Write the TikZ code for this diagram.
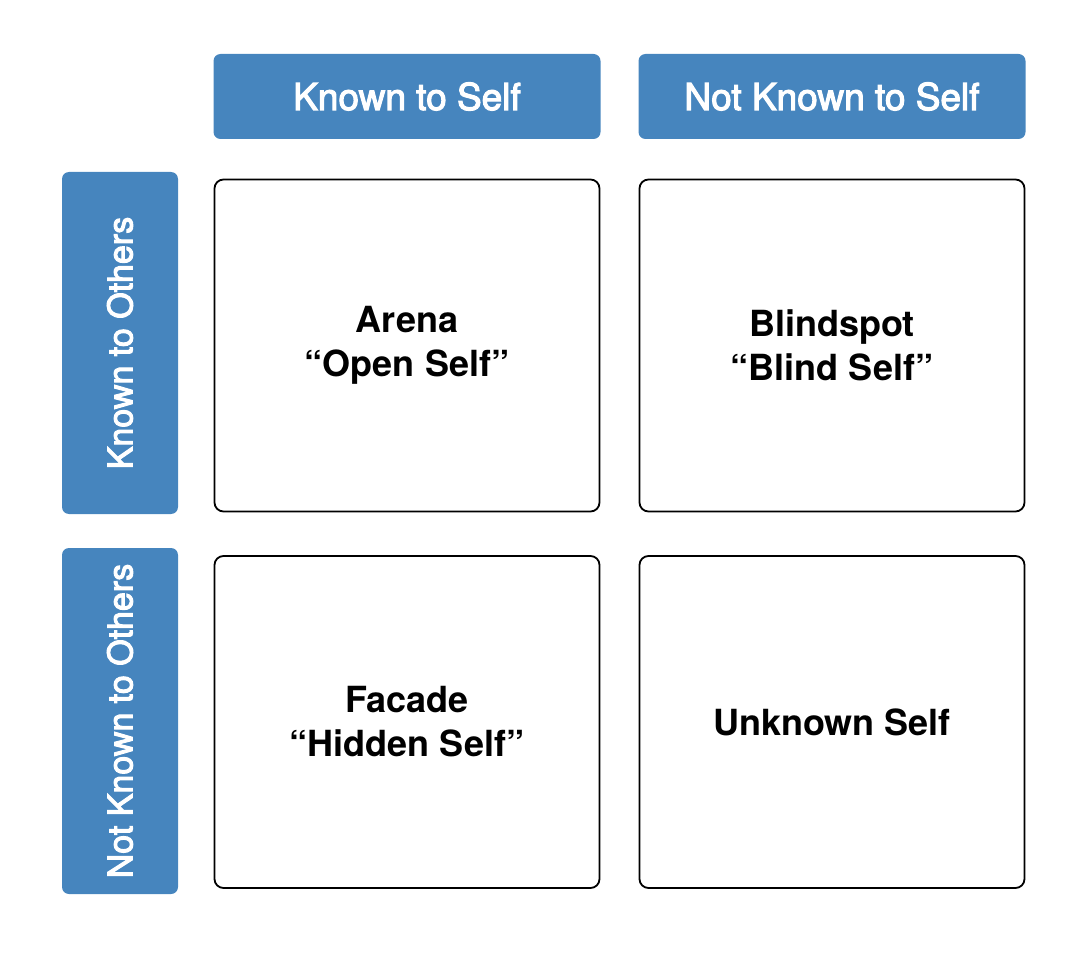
\documentclass[tikz,border=0pt]{standalone}
\usepackage{fontspec}
\setmainfont{TeX Gyre Heros}
\newfontfamily\hdrfont{TeX Gyre Heros}[FakeBold=3]
\definecolor{hdrblue}{RGB}{70,133,190}

\begin{document}
\begin{tikzpicture}[x=1pt,y=-1pt,
  hdr/.style={fill=hdrblue,rounded corners=7pt,text=white,inner sep=0pt},
  tophdr/.style={hdr,minimum width=387pt,minimum height=85pt,font=\hdrfont\fontsize{37}{44}\selectfont},
  sidehdr/.style={hdr,rotate=90,minimum height=116pt,font=\hdrfont\fontsize{34}{40}\selectfont},
  quad/.style={draw=black,line width=1.8pt,rounded corners=9pt,minimum width=385pt,minimum height=332pt,
    inner sep=0pt,align=center,font=\fontsize{36}{44}\selectfont\bfseries}]
\useasboundingbox (0,0) rectangle (1088,960);

\pgfmathsetmacro{\colA}{407};
\pgfmathsetmacro{\colB}{832};
\pgfmathsetmacro{\rowA}{345.5};
\pgfmathsetmacro{\rowB}{722};

\node[tophdr] (kself) at (\colA,96.5) {Known to Self};
\node[tophdr] (nkself) at (\colB,96.5) {Not Known to Self};

\node[sidehdr,minimum width=342pt] (kothers) at (120,343) {Known to Others};
\node[sidehdr,minimum width=346pt] (nkothers) at (120,721) {Not Known to Others};

\node[quad] (arena) at (\colA,\rowA) {Arena\\``Open Self''};
\node[quad] (blind) at (\colB,\rowA) {Blindspot\\``Blind Self''};
\node[quad] (facade) at (\colA,\rowB) {Facade\\``Hidden Self''};
\node[quad] (unknown) at (\colB,\rowB) {Unknown Self};
\end{tikzpicture}
\end{document}
